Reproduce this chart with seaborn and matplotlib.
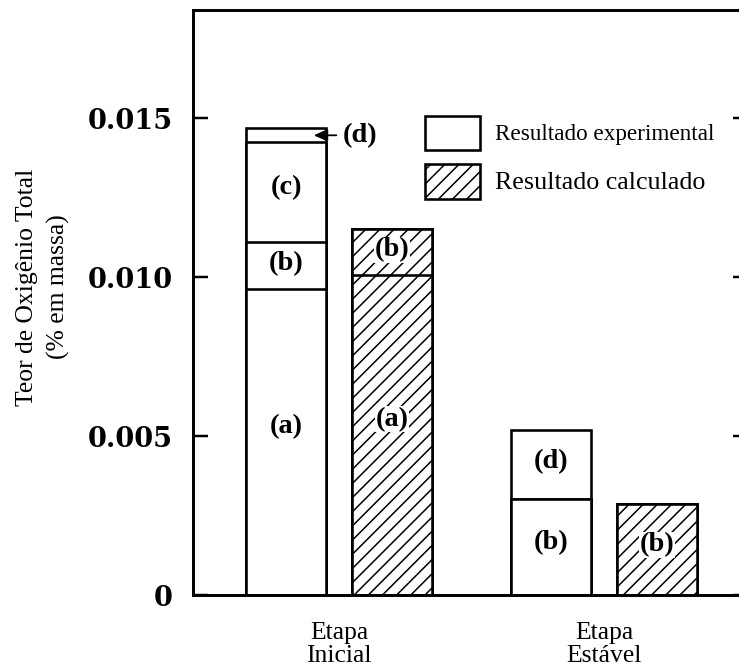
import numpy as np
import pandas as pd
import matplotlib
matplotlib.use("Agg")
import matplotlib.pyplot as plt
import seaborn as sns
from matplotlib.patches import Patch
from matplotlib.ticker import FixedLocator, FixedFormatter

# ---------------- data ----------------
stages = ["Etapa\nInicial", "Etapa\nEstável"]
types = ["Resultado experimental", "Resultado calculado"]
components = ["(a)", "(b)", "(c)", "(d)"]

exp_a = [0.00962, 0.0]
exp_b = [0.00148, 0.00302]
exp_c = [0.00315, 0.0]
exp_d = [0.00044, 0.00217]

calc_a = [0.01006, 0.0]
calc_b = [0.00145, 0.00286]
calc_c = [0.0, 0.0]
calc_d = [0.0, 0.0]

ytick_values = [0, 0.005, 0.010, 0.015]
ytick_labels = ["0", "0.005", "0.010", "0.015"]
ylabel_text = "Teor de Oxigênio Total\n(% em massa)"

segments = {types[0]: [exp_a, exp_b, exp_c, exp_d],
            types[1]: [calc_a, calc_b, calc_c, calc_d]}

rows = []
for t, segs in segments.items():
    for si, st in enumerate(stages):
        cum = 0.0
        for ci, comp in enumerate(components):
            v = segs[ci][si]
            rows.append(dict(stage=st, type=t, component=comp, value=v,
                             bottom=cum, top=cum + v))
            cum += v
df = pd.DataFrame(rows)

# ---------------- style ----------------
DPI = 85
sns.set_style("ticks")
plt.rcParams["font.family"] = ["Liberation Serif", "DejaVu Serif"]
plt.rcParams["hatch.linewidth"] = 1.3
plt.rcParams["axes.linewidth"] = 2.5
for k in ["text.color", "axes.labelcolor", "xtick.color", "ytick.color",
          "axes.edgecolor", "hatch.color"]:
    plt.rcParams[k] = "black"

fig = plt.figure(figsize=(740 / DPI, 670 / DPI), dpi=DPI)
ax = fig.add_axes([193 / 740, 75 / 670, (748 - 193) / 740, (595 - 9.5) / 670])

HATCH = "//"
EDGE_LW = 2.2

last_containers = None
for comp in reversed(components):
    sub = df[df.component == comp]
    n0 = len(ax.containers)
    sns.barplot(data=sub, x="stage", y="top", hue="type", order=stages,
                hue_order=types, palette={t: "white" for t in types},
                saturation=1, width=0.8, gap=0.25, edgecolor="black",
                linewidth=EDGE_LW, errorbar=None, legend=False, ax=ax)
    new = ax.containers[n0:]
    for p in new[1]:
        p.set_hatch(HATCH)
    last_containers = new

# bar centres / edges from the library's patches
geom = {}
for ti, t in enumerate(types):
    for si, st in enumerate(stages):
        p = last_containers[ti][si]
        geom[(t, st)] = (p.get_x(), p.get_x() + p.get_width())

# ---------------- segment labels ----------------
label_font = dict(family=["Liberation Serif", "DejaVu Serif"],
                  fontweight="bold", fontsize=24, color="black")
for _, r in df.iterrows():
    if r.value <= 0:
        continue
    x0, x1 = geom[(r.type, r.stage)]
    xc = (x0 + x1) / 2
    if r.value < 0.0008:
        ymid = r.bottom + r.value / 2
        ax.annotate(r.component, xy=(x1 - 0.045, ymid), xycoords="data",
                    xytext=(24.5, 0), textcoords="offset points",
                    ha="left", va="center", **label_font,
                    arrowprops=dict(arrowstyle="-|>,head_length=0.4,head_width=0.18",
                                    color="black", lw=1.5, shrinkA=3, shrinkB=0))
        continue
    yl = r.bottom + 0.55 * r.value
    bbox = None
    if r.type == types[1]:
        bbox = dict(facecolor="white", edgecolor="none", pad=0.6)
    ax.text(xc, yl, r.component, ha="center", va="center", bbox=bbox,
            **label_font)

# ---------------- axes ----------------
ax.set_xlim(-0.551, 1.543)
ax.set_ylim(0, 0.01843)
ax.yaxis.set_major_locator(FixedLocator(ytick_values))
ax.yaxis.set_major_formatter(FixedFormatter(ytick_labels))
ax.tick_params(axis="y", which="both", direction="in", length=12.7, width=2.1,
               left=True, right=True, labelright=False, pad=17, colors="black")
for lab in ax.get_yticklabels():
    lab.set_fontfamily("DejaVu Serif")
    lab.set_fontweight("bold")
    lab.set_fontsize(23)
ax.tick_params(axis="x", length=0, pad=22.5, labelsize=21.7, colors="black")
for lab in ax.get_xticklabels():
    lab.set_linespacing(1.1)

ax.set_xlabel("")
ax.set_ylabel(ylabel_text, fontsize=21.7, linespacing=1.5, va="center",
              color="black")
ax.yaxis.set_label_coords(-0.27, 0.526)

for s in ["left", "top", "bottom"]:
    ax.spines[s].set_visible(True)
    ax.spines[s].set_linewidth(2.5)
    ax.spines[s].set_color("black")
ax.spines["right"].set_visible(False)

# ---------------- legend ----------------
handles = [Patch(facecolor="white", edgecolor="black", linewidth=EDGE_LW, label=types[0]),
           Patch(facecolor="white", edgecolor="black", linewidth=EDGE_LW, hatch=HATCH,
                 label=types[1])]
leg_fs = 19.6
fs_px = leg_fs * DPI / 72
leg = ax.legend(handles=handles, loc="upper left",
                bbox_to_anchor=(425 / 740, 1 - 116 / 670),
                bbox_transform=fig.transFigure, frameon=False,
                borderaxespad=0, borderpad=0, fontsize=leg_fs,
                handlelength=55 / fs_px,
                handleheight=1.89,
                labelspacing=0.62, handletextpad=0.65)
leg.get_texts()[1].set_fontsize(22)

fig.savefig("out.png", dpi=DPI)
